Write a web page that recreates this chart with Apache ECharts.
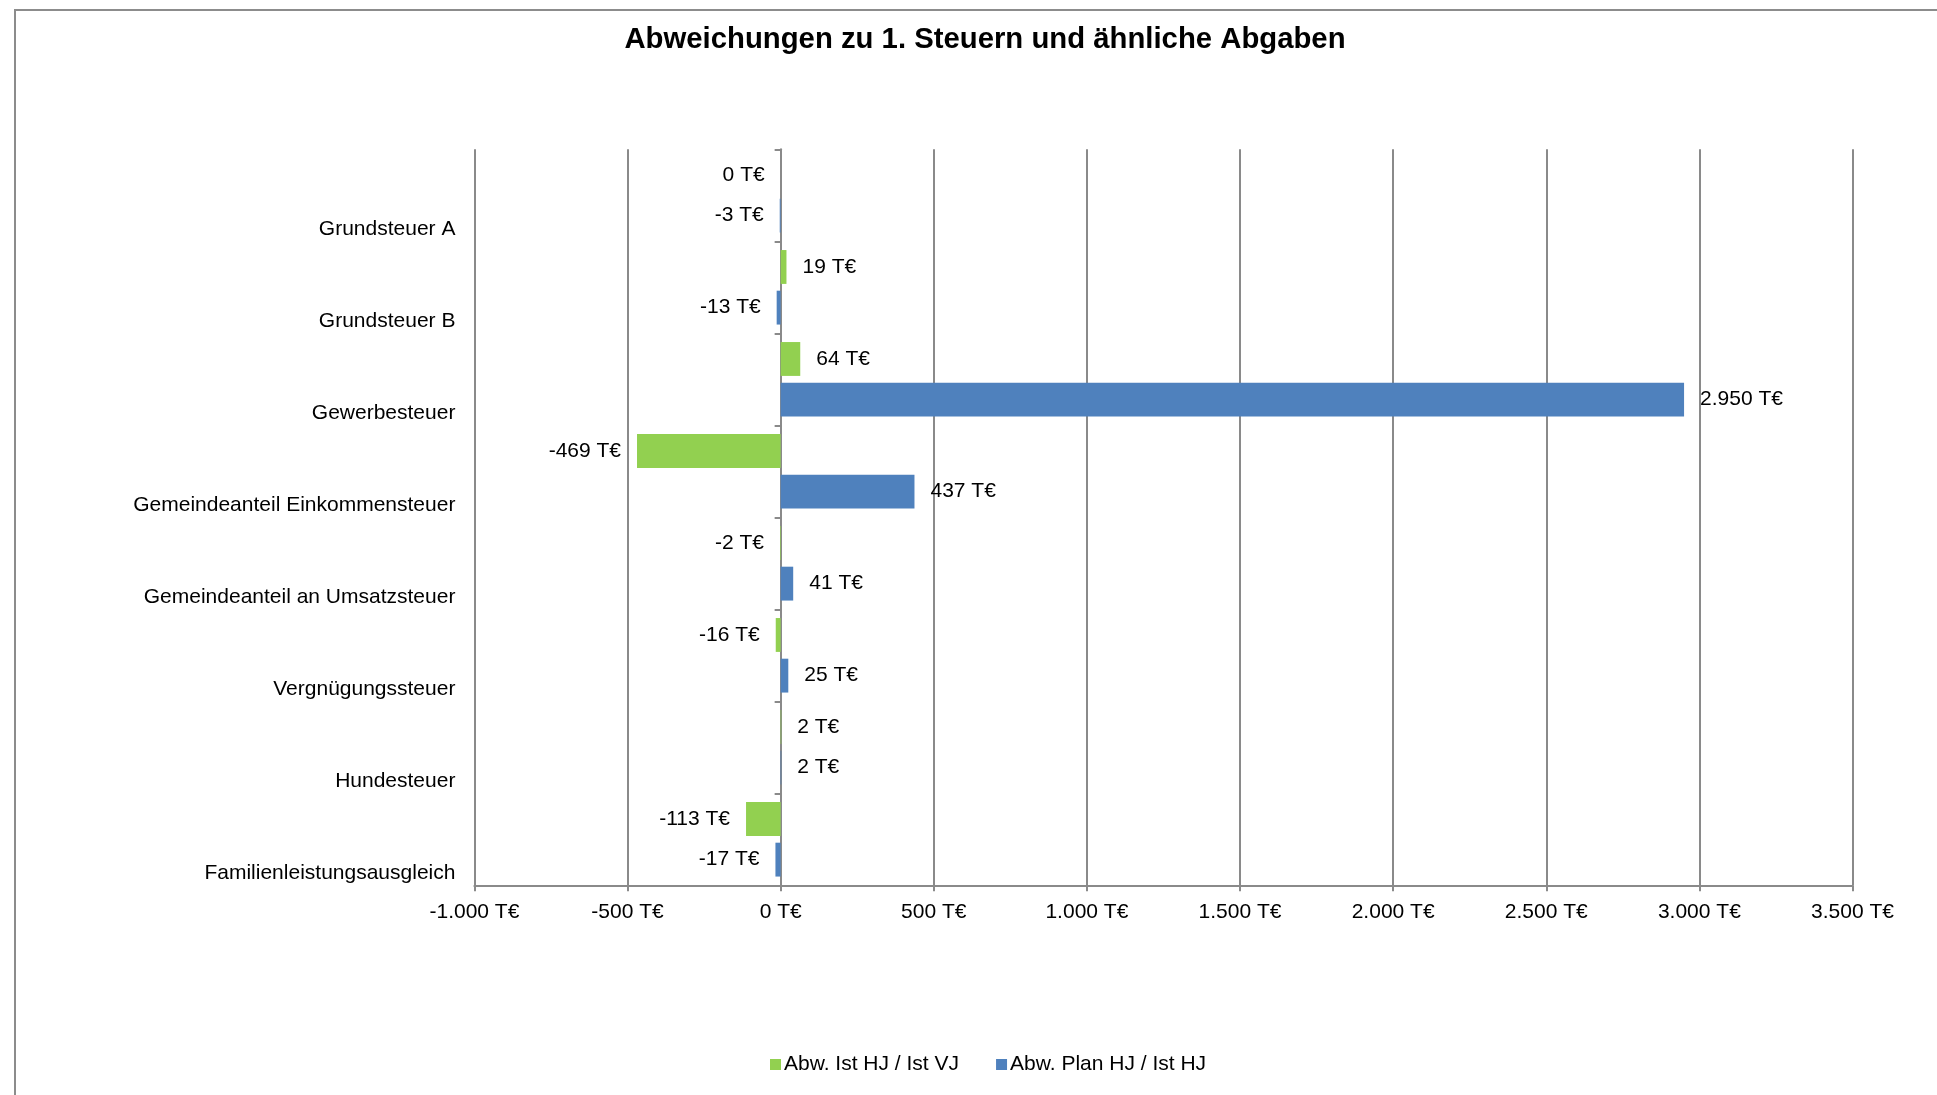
<!DOCTYPE html>
<html>
<head>
<meta charset="utf-8">
<title>Abweichungen zu 1. Steuern und ähnliche Abgaben</title>
<script src="https://cdn.jsdelivr.net/npm/echarts@6/dist/echarts.min.js"></script>
<style>
    html, body {
        margin: 0;
        padding: 0;
        background: #ffffff;
    }
    #main {
        width: 1937px;
        height: 1095px;
    }
</style>
</head>
<body>
<div id="main"></div>
<script>
// Kategorien (von oben nach unten)
var categories = [
    'Grundsteuer A',
    'Grundsteuer B',
    'Gewerbesteuer',
    'Gemeindeanteil Einkommensteuer',
    'Gemeindeanteil an Umsatzsteuer',
    'Vergnügungssteuer',
    'Hundesteuer',
    'Familienleistungsausgleich'
];
var seriesNames = ['Abw. Ist HJ / Ist VJ', 'Abw. Plan HJ / Ist HJ'];
// Werte in T€
var istVJ = [0, 19, 64, -469, -2, -16, 2, -113];
var planHJ = [-3, -13, 2950, 437, 41, 25, 2, -17];
var xTicks = { min: -1000, max: 3500, interval: 500 };

var font = 'Arial, "Liberation Sans", sans-serif';
var gridColor = '#8a8a8a';

// 2950 -> "2.950 T€"
function fmt(v) {
    var s = Math.abs(v).toString().replace(/\B(?=(\d{3})+(?!\d))/g, '.');
    return (v < 0 ? '-' : '') + s + ' T€';
}

// positive Werte rechts, sonst links beschriften
function toData(arr) {
    return arr.map(function (v) {
        return {
            value: v,
            label: { position: v > 0 ? 'right' : 'left' }
        };
    });
}

function makeSeries(name, data, color) {
    return {
        name: name,
        type: 'bar',
        yAxisIndex: 0,
        data: toData(data),
        barGap: '20%',
        barCategoryGap: '19%',
        itemStyle: { color: color },
        label: {
            show: true,
            distance: 16,
            color: '#000',
            fontFamily: font,
            fontSize: 21,
            formatter: function (p) { return fmt(p.value); }
        },
        animation: false
    };
}

var myChart = echarts.init(document.getElementById('main'));
myChart.setOption({
    animation: false,
    title: {
        text: 'Abweichungen zu 1. Steuern und ähnliche Abgaben',
        left: 980,
        top: 20,
        textAlign: 'center',
        textStyle: {
            fontFamily: font,
            fontSize: 29.3,
            fontWeight: 'bold',
            color: '#000'
        }
    },
    // Rahmen wie im Original (rechts/unten offen)
    graphic: [{
        type: 'polyline',
        shape: { points: [[15, 1100], [15, 10], [1945, 10]] },
        style: { stroke: '#8c8c8c', lineWidth: 2, fill: null },
        silent: true
    }],
    legend: {
        data: seriesNames,
        bottom: 15,
        left: 765,
        itemWidth: 11,
        itemHeight: 11,
        itemGap: 37,
        icon: 'rect',
        textStyle: {
            fontFamily: font,
            fontSize: 21,
            color: '#000',
            padding: [0, 0, 0, -2]
        }
    },
    grid: {
        left: 474.4,
        right: 84.5,
        top: 149.3,
        bottom: 209.7,
        containLabel: false
    },
    xAxis: {
        type: 'value',
        min: xTicks.min,
        max: xTicks.max,
        interval: xTicks.interval,
        axisLine: { show: true, onZero: false, lineStyle: { color: gridColor, width: 2 } },
        axisTick: { show: true, length: 6, lineStyle: { color: gridColor, width: 2 } },
        splitLine: { show: true, lineStyle: { color: gridColor, width: 2 } },
        axisLabel: {
            margin: 16,
            color: '#000',
            fontFamily: font,
            fontSize: 21,
            formatter: fmt
        }
    },
    yAxis: [{
        type: 'category',
        data: categories,
        inverse: true,
        position: 'left',
        axisLine: { show: false, onZero: false },
        axisTick: { show: false },
        axisLabel: {
            margin: 19,
            color: '#000',
            fontFamily: font,
            fontSize: 21,
            formatter: function (v) { return '{a|' + v + '}'; },
            rich: {
                a: {
                    color: '#000',
                    fontFamily: font,
                    fontSize: 21,
                    padding: [68, 0, 0, 0]
                }
            }
        }
    }, {
        // Achse bei 0 mit Teilstrichen
        type: 'category',
        data: categories,
        inverse: true,
        position: 'right',
        axisLine: { show: true, onZero: true, lineStyle: { color: gridColor, width: 2 } },
        axisTick: { show: true, inside: true, length: 6, lineStyle: { color: gridColor, width: 2 } },
        axisLabel: { show: false }
    }],
    series: [
        makeSeries(seriesNames[0], istVJ, '#92d050'),
        makeSeries(seriesNames[1], planHJ, '#4f81bd')
    ]
});
</script>
</body>
</html>
